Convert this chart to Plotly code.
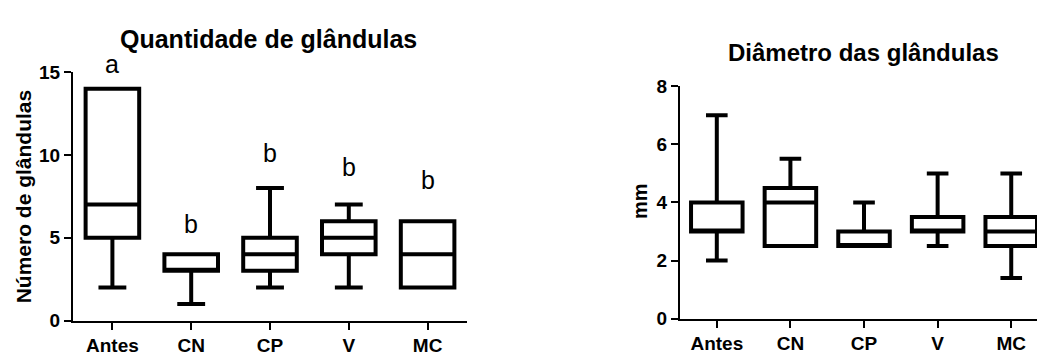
import plotly.graph_objects as go

categories = ["Antes", "CN", "CP", "V", "MC"]

# Quantidade de glândulas (left)
q_min = [2, 1, 2, 2, 2]
q_q1 = [5, 3, 3, 4, 2]
q_med = [7, 3, 4, 5, 4]
q_q3 = [14, 4, 5, 6, 6]
q_max = [14, 4, 8, 7, 6]
q_letters = ["a", "b", "b", "b", "b"]
q_letter_y = [15.5, 5.8, 10.1, 9.3, 8.5]

# Diâmetro das glândulas (right)
d_min = [2, 2.5, 2.5, 2.5, 1.4]
d_q1 = [3, 2.5, 2.5, 3, 2.5]
d_med = [3, 4, 2.5, 3, 3]
d_q3 = [4, 4.5, 3, 3.5, 3.5]
d_max = [7, 5.5, 4, 5, 5]

Q_YMAX = 15
D_YMAX = 8

W, H = 1037, 356
FONT = "Liberation Sans, Arial, sans-serif"

fig = go.Figure()

fig.add_trace(go.Box(
    x=categories, q1=q_q1, median=q_med, q3=q_q3,
    lowerfence=q_min, upperfence=q_max,
    width=0.68, whiskerwidth=0.52, boxpoints=False,
    fillcolor="white", line=dict(color="black", width=4),
    xaxis="x", yaxis="y", hoverinfo="skip", showlegend=False,
))
fig.add_trace(go.Box(
    x=categories, q1=d_q1, median=d_med, q3=d_q3,
    lowerfence=d_min, upperfence=d_max,
    width=0.70, whiskerwidth=0.42, boxpoints=False,
    fillcolor="white", line=dict(color="black", width=4),
    xaxis="x2", yaxis="y2", hoverinfo="skip", showlegend=False,
))

def px_x(p):
    return p / W

def px_y(p):
    return 1 - p / H

axis_common = dict(
    showline=True, linewidth=2, linecolor="black",
    ticks="outside", ticklen=7, tickwidth=2, tickcolor="black",
    showgrid=False, zeroline=False,
    tickfont=dict(family=FONT, size=19, color="black", weight="bold"),
)

fig.update_layout(
    width=W, height=H,
    margin=dict(l=0, r=0, t=0, b=0),
    paper_bgcolor="white", plot_bgcolor="white",
    boxmode="overlay",
    xaxis=dict(domain=[px_x(73), px_x(467)], type="category",
               categoryorder="array", categoryarray=categories,
               range=[-0.5, 4.5], anchor="y", **axis_common),
    yaxis=dict(domain=[px_y(330), px_y(66)], range=[0, Q_YMAX],
               tickvals=[0, 5, 10, 15], anchor="x", **axis_common),
    xaxis2=dict(domain=[px_x(680), 1.0], type="category",
                categoryorder="array", categoryarray=categories,
                range=[-0.5, 4.35], anchor="y2", **axis_common),
    yaxis2=dict(domain=[px_y(328), px_y(81)], range=[0, D_YMAX],
                tickvals=[0, 2, 4, 6, 8], anchor="x2", **axis_common),
)

annotations = []
for cat, letter, yv in zip(categories, q_letters, q_letter_y):
    annotations.append(dict(
        x=cat, y=yv / Q_YMAX, xref="x", yref="y domain", text=letter,
        showarrow=False,
        font=dict(family=FONT, size=25, color="black"),
        xanchor="center", yanchor="middle",
    ))

annotations += [
    dict(x=px_x(268), y=px_y(31), xref="paper", yref="paper",
         text="Quantidade de glândulas", showarrow=False,
         font=dict(family=FONT, size=25, color="black", weight="bold"),
         xanchor="center", yanchor="middle"),
    dict(x=px_x(863), y=px_y(45), xref="paper", yref="paper",
         text="Diâmetro das glândulas", showarrow=False,
         font=dict(family=FONT, size=24, color="black", weight="bold"),
         xanchor="center", yanchor="middle"),
    dict(x=px_x(23), y=px_y(198), xref="paper", yref="paper",
         text="Número de glândulas", showarrow=False, textangle=-90,
         font=dict(family=FONT, size=21, color="black", weight="bold"),
         xanchor="center", yanchor="middle"),
    dict(x=px_x(640), y=px_y(203), xref="paper", yref="paper",
         text="mm", showarrow=False, textangle=-90,
         font=dict(family=FONT, size=20, color="black", weight="bold"),
         xanchor="center", yanchor="middle"),
]
fig.update_layout(annotations=annotations)

fig.write_html("out.html")
